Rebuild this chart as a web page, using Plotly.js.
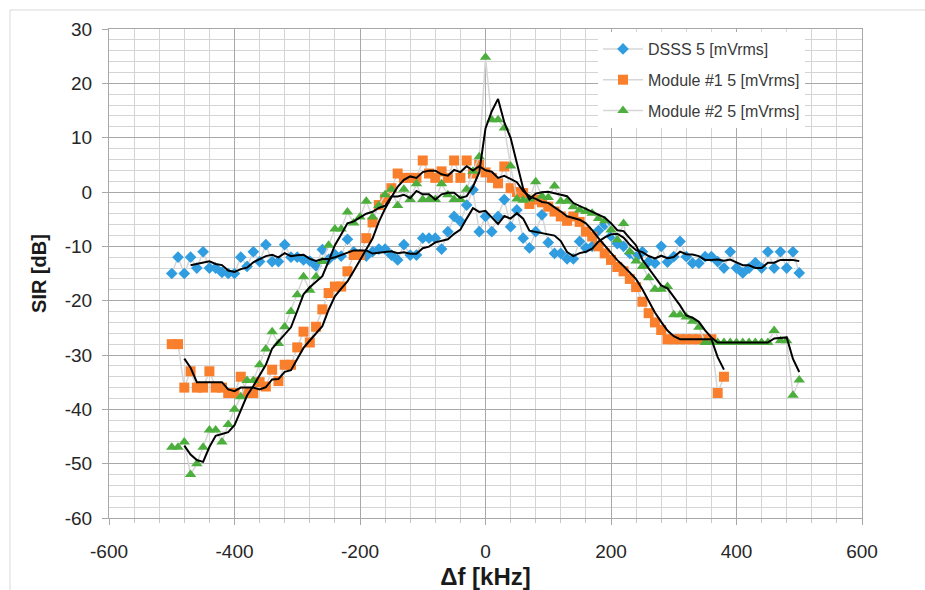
<!DOCTYPE html>
<html><head><meta charset="utf-8">
<script src="https://cdn.plot.ly/plotly-3.0.1.min.js"></script>
<style>html,body{margin:0;padding:0;background:#fff}#chart{width:925px;height:590px}</style>
</head><body><div id="chart"></div>
<script>
// Frequency offset (kHz)
const freq = [
 -500,-490,-480,-470,-460,-450,-440,-430,-420,-410,
 -400,-390,-380,-370,-360,-350,-340,-330,-320,-310,
 -300,-290,-280,-270,-260,-250,-240,-230,-220,-210,
 -200,-190,-180,-170,-160,-150,-140,-130,-120,-110,
 -100,-90,-80,-70,-60,-50,-40,-30,-20,-10,
 0,10,20,30,40,50,60,70,80,90,
 100,110,120,130,140,150,160,170,180,190,
 200,210,220,230,240,250,260,270,280,290,
 300,310,320,330,340,350,360,370,380,390,
 400,410,420,430,440,450,460,470,480,490,
 500];

// SIR (dB) — DSSS 5 mVrms
const dsss = [
 -15,-12,-15,-12,-14,-11,-14,-14,-14.8,-15,
 -15,-12,-13.7,-11,-12.8,-9.7,-12.8,-12.8,-9.7,-12,
 -12,-12.5,-12.7,-13.6,-10.6,-12.4,-11.5,-11.8,-8.7,-11,
 -11.5,-11.8,-11,-10.5,-10.5,-11.6,-12.5,-9.7,-11.6,-11.6,
 -8.5,-8.5,-8.5,-10.5,-7.3,-4.5,-5.4,-2.4,0.4,-7.3,
 -4.5,-7.3,-4.5,-1.4,-6.4,-3.3,-8.5,-10.3,-7.3,-4.2,
 -9.3,-11.3,-11.3,-12.3,-12.3,-9.1,-10.3,-10,-7.1,-6,
 -8.1,-9.5,-10,-11.3,-12,-11,-12.8,-13.1,-10,-12.9,
 -11.9,-9.1,-11.9,-13.1,-13.1,-11.9,-11.9,-12.8,-14,-11,
 -14,-14.9,-14,-13,-14,-11,-14,-11,-14,-11,
 -14.9];

// SIR (dB) — Module #1 5 mVrms (-500 … 380 kHz)
const module1 = [
 -28,-28,-36,-33,-36,-36,-33,-36,-36,-37,
 -37,-34,-37,-37,-35,-35.8,-32.7,-34.8,-31.8,-31.8,
 -28.6,-25.7,-27.7,-24.8,-21.6,-18.6,-17.4,-17.4,-14.6,-11.6,
 -11.6,-8.5,-5.6,-2.4,-1.2,0.7,3.4,2.6,2.6,2.6,
 5.8,3.4,2.6,3.8,2.6,5.8,2.6,5.8,3.4,5,
 3.6,2.6,1.6,4.7,0.7,0,-0.2,-2.2,-1.4,-1.9,
 -2.7,-3.6,-4.5,-5.3,-4.5,-5.5,-7.3,-8.2,-10,-11.3,
 -12.5,-13.8,-14.6,-16,-17.5,-20.2,-22.3,-24,-25.4,-27.1,
 -27.1,-27.1,-27.1,-27.1,-27.1,-27.1,-27.1,-37,-34];

// SIR (dB) — Module #2 5 mVrms
const module2 = [
 -47,-47,-46,-52,-50,-47,-43.8,-43.8,-46,-42.8,
 -40,-37.7,-34.7,-34.7,-31.8,-28.9,-25.7,-27.9,-24.8,-22,
 -18.9,-15.6,-18.1,-15.6,-12.8,-9.8,-6.8,-6.8,-3.7,-5.7,
 -4.6,-1.7,-4.6,-2.5,-0.5,0.5,-2.5,0.5,-1.4,1.5,
 -1.4,-1.4,-1.4,1.5,-0.5,-1.4,-1.4,0.5,3.8,6.5,
 24.8,13.3,13.3,11.8,4.8,-1.3,-1.5,-1.3,1.9,-0.8,
 -1,1.1,-1.7,-1.7,-2.7,-3.3,-3.6,-3.9,-4.9,-5.3,
 -7,-8.8,-5.8,-11,-12.7,-13.7,-15.8,-17.9,-17.9,-17.4,
 -22.6,-22.6,-23,-23.8,-24.9,-27.7,-27.7,-27.7,-27.7,-27.7,
 -27.7,-27.7,-27.7,-27.7,-27.7,-27.7,-25.5,-27.4,-27.4,-37.4,
 -34.6];

const seriesNames = ['DSSS 5 [mVrms]', 'Module #1 5 [mVrms]', 'Module #2 5 [mVrms]'];
const maPeriods = [4, 3, 3];   // moving-average trendline periods

// Tick labels (plain hyphen minus, as in the original)
const xTickVals = [-600, -400, -200, 0, 200, 400, 600];
const xTickText = ['-600', '-400', '-200', '0', '200', '400', '600'];
const yTickVals = [-60, -50, -40, -30, -20, -10, 0, 10, 20, 30];
const yTickText = ['-60', '-50', '-40', '-30', '-20', '-10', '0', '10', '20', '30'];

function movingAverage(xs, ys, period) {
  const ox = [], oy = [];
  for (let i = period - 1; i < ys.length; i++) {
    let s = 0;
    for (let k = i - period + 1; k <= i; k++) s += ys[k];
    ox.push(xs[i]); oy.push(s / period);
  }
  return {x: ox, y: oy};
}

const colors = ['#2f9ddf', '#fa7f2c', '#4caf3d'];
const symbols = ['diamond', 'square', 'triangle-up'];
const sizes = [9, 10, 10];
const ys = [dsss, module1, module2];

const traces = [];
ys.forEach((y, i) => {
  traces.push({
    type: 'scatter', mode: 'lines+markers',
    name: seriesNames[i], legendgroup: 'g' + i,
    x: freq.slice(0, y.length), y: y,
    line: {color: '#d6d6d6', width: 1.5},
    marker: {symbol: symbols[i], size: sizes[i], color: colors[i], line: {width: 0}}
  });
});
ys.forEach((y, i) => {
  const ma = movingAverage(freq.slice(0, y.length), y, maPeriods[i]);
  traces.push({
    type: 'scatter', mode: 'lines', showlegend: false, hoverinfo: 'skip',
    x: ma.x, y: ma.y, line: {color: '#000000', width: 2}
  });
});

const tickFont = {family: 'Liberation Sans, Arial, sans-serif', size: 19, color: '#262626'};
const axisCommon = {
  showgrid: true, gridcolor: '#a8a8a8', gridwidth: 1,
  zeroline: false, showline: true, linecolor: '#a8a8a8', linewidth: 1, mirror: true,
  ticks: 'outside', ticklen: 6, tickcolor: '#a8a8a8', tickfont: tickFont, tickmode: 'array'
};

const W = 753, H = 489, L = 109, T = 29;
const layout = {
  width: 925, height: 590,
  margin: {l: L, r: 925 - L - W, t: T, b: 590 - T - H},
  paper_bgcolor: '#ffffff', plot_bgcolor: '#ffffff',
  showlegend: true,
  xaxis: Object.assign({}, axisCommon, {
    range: [-600, 600], tickvals: xTickVals, ticktext: xTickText, ticklabelstandoff: 10,
    minor: {dtick: 40, tick0: -600, showgrid: true, gridcolor: '#d4d4d4', gridwidth: 1, ticks: 'outside', ticklen: 4, tickcolor: '#c8c8c8'},
    title: {text: 'Δf [kHz]', standoff: 8, font: {family: 'Liberation Sans, Arial, sans-serif', size: 24, weight: 'bold', color: '#1a1a1a'}}
  }),
  yaxis: Object.assign({}, axisCommon, {
    range: [-60, 30], tickvals: yTickVals, ticktext: yTickText, ticklabelstandoff: 6,
    minor: {dtick: 2, tick0: -60, showgrid: true, gridcolor: '#d4d4d4', gridwidth: 1},
    title: {text: 'SIR [dB]', standoff: 12, font: {family: 'Liberation Sans, Arial, sans-serif', size: 20, weight: 'bold', color: '#1a1a1a'}}
  }),
  legend: {
    x: (598 - L) / W, y: (T + H - 32) / H, xanchor: 'left', yanchor: 'top',
    bgcolor: '#ffffff', borderwidth: 0, itemwidth: 40, tracegroupgap: 7,
    font: {family: 'Liberation Sans, Arial, sans-serif', size: 16, color: '#3a3a3a'}
  },
  shapes: [
    {type: 'line', xref: 'paper', yref: 'paper', x0: (10 - L) / W, x1: (925 - L) / W,
     y0: (T + H - 10) / H, y1: (T + H - 10) / H, line: {color: '#d9d9d9', width: 1}},
    {type: 'line', xref: 'paper', yref: 'paper', x0: (10 - L) / W, x1: (10 - L) / W,
     y0: (T + H - 590) / H, y1: (T + H - 10) / H, line: {color: '#d9d9d9', width: 1}}
  ]
};

Plotly.newPlot('chart', traces, layout, {staticPlot: true, displayModeBar: false});
</script>
</body></html>
